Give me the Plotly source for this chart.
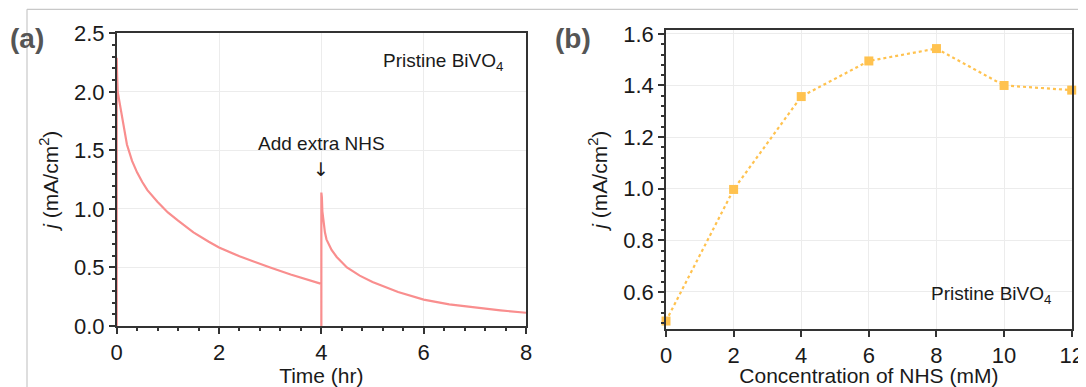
import plotly.graph_objects as go

# ---- Panel (a): chronoamperometry ----
time_hr = [0, 0, 0.01, 0.02, 0.05, 0.1, 0.15, 0.2, 0.3, 0.4, 0.5, 0.6, 0.8, 1.0, 1.2, 1.5,
           1.8, 2.0, 2.4, 2.8, 3.0, 3.4, 3.7, 4.0,
           4.0, 4.0, 4.01, 4.02, 4.04, 4.07, 4.1, 4.2, 4.3, 4.5, 4.75, 5.0, 5.5, 6.0,
           6.5, 7.0, 7.5, 8.0]
current_a = [0, 2.29, 2.12, 2.0, 1.92, 1.78, 1.65, 1.55, 1.41, 1.31, 1.23, 1.16, 1.06, 0.97, 0.90, 0.80,
             0.72, 0.67, 0.595, 0.53, 0.50, 0.44, 0.40, 0.36,
             0.0, 1.14, 1.10, 0.98, 0.88, 0.80, 0.74, 0.65, 0.59, 0.50, 0.43, 0.375, 0.29, 0.225,
             0.185, 0.157, 0.134, 0.113]

# ---- Panel (b): current vs NHS concentration ----
nhs_mM = [0, 2, 4, 6, 8, 10, 12]
current_b = [0.487, 0.997, 1.357, 1.495, 1.543, 1.40, 1.382]

x_ticks_a = [0, 2, 4, 6, 8]
y_ticks_a = [0.0, 0.5, 1.0, 1.5, 2.0, 2.5]
y_ticklabels_a = ["0.0", "0.5", "1.0", "1.5", "2.0", "2.5"]
x_ticks_b = [0, 2, 4, 6, 8, 10, 12]
y_ticks_b = [0.6, 0.8, 1.0, 1.2, 1.4, 1.6]
y_ticklabels_b = ["0.6", "0.8", "1.0", "1.2", "1.4", "1.6"]

# page body has an 8px margin, so the figure is drawn 8px in from the top-left
OFF = 8
W, H = 1086 - OFF, 387 - OFF
FONT = "Liberation Sans, Arial, sans-serif"
AX = "#333333"
GRID = "#ececec"

fig = go.Figure()
fig.add_trace(go.Scatter(x=time_hr, y=current_a, mode="lines",
                         line=dict(color="#F98E8E", width=2.2),
                         xaxis="x", yaxis="y", showlegend=False))
fig.add_trace(go.Scatter(x=nhs_mM, y=current_b, mode="lines+markers",
                         line=dict(color="#FFC24F", width=2.2, dash="dot"),
                         marker=dict(symbol="square", size=9, color="#FFC24F"),
                         cliponaxis=False,
                         xaxis="x2", yaxis="y2", showlegend=False))

def px_x(p):
    return (p - OFF) / W

def px_y(p):
    return 1 - (p - OFF) / H

common = dict(showline=True, linecolor=AX, linewidth=1.5, mirror=True,
              ticks="outside", ticklen=6, tickwidth=1.5, tickcolor=AX,
              showgrid=True, gridcolor=GRID, gridwidth=1, zeroline=False,
              automargin=False,
              tickfont=dict(family=FONT, size=22, color="#1a1a1a"))

title_font = dict(family=FONT, size=21, color="#1a1a1a")
ytitle = "<i>j</i> (mA/cm<sup>2</sup>)"

fig.update_layout(
    width=W, height=H,
    margin=dict(l=0, r=0, t=0, b=0, autoexpand=False),
    paper_bgcolor="white", plot_bgcolor="white",
    xaxis=dict(domain=[px_x(116.7), px_x(526)], range=[0, 8], anchor="y",
               tickvals=x_ticks_a,
               minor=dict(dtick=0.4, ticks="outside", ticklen=3, tickcolor=AX, showgrid=False),
               title=dict(text="Time (hr)", font=title_font, standoff=2),
               **common),
    yaxis=dict(domain=[px_y(326), px_y(33.3)], range=[0, 2.5], anchor="x",
               tickvals=y_ticks_a, ticktext=y_ticklabels_a,
               minor=dict(dtick=0.1, ticks="outside", ticklen=3, tickcolor=AX, showgrid=False),
               title=dict(text=ytitle, font=title_font, standoff=10),
               **common),
    xaxis2=dict(domain=[px_x(666), px_x(1071.7)], range=[0, 12], anchor="y2",
                tickvals=x_ticks_b,
                title=dict(text="Concentration of NHS (mM)", font=title_font, standoff=2),
                **common),
    yaxis2=dict(domain=[px_y(329.3), px_y(30)], range=[0.455, 1.615], anchor="x2",
                tickvals=y_ticks_b, ticktext=y_ticklabels_b,
                minor=dict(dtick=0.04, tick0=0.0, ticks="outside", ticklen=3, tickcolor=AX, showgrid=False),
                title=dict(text=ytitle, font=title_font, standoff=10),
                **common),
)

ann_font = dict(family=FONT, size=19, color="#1a1a1a")
fig.add_annotation(xref="paper", yref="paper", x=px_x(443), y=px_y(62),
                   text="Pristine BiVO<sub>4</sub>", showarrow=False, font=ann_font,
                   xanchor="center", yanchor="middle")
fig.add_annotation(xref="paper", yref="paper", x=px_x(991), y=px_y(295),
                   text="Pristine BiVO<sub>4</sub>", showarrow=False, font=ann_font,
                   xanchor="center", yanchor="middle")
fig.add_annotation(xref="x", yref="paper", x=4, y=px_y(144),
                   text="Add extra NHS", showarrow=False, font=ann_font,
                   xanchor="center", yanchor="middle")
fig.add_annotation(xref="x", yref="paper", x=4, y=px_y(169),
                   text="↓", showarrow=False, font=dict(family="DejaVu Sans", size=19, color="#1a1a1a"),
                   xanchor="center", yanchor="middle")

label_font = dict(family=FONT, size=28, color="#555555")
fig.add_annotation(xref="paper", yref="paper", x=px_x(27), y=px_y(38),
                   text="<b>(a)</b>", showarrow=False, font=label_font,
                   xanchor="center", yanchor="middle")
fig.add_annotation(xref="paper", yref="paper", x=px_x(573), y=px_y(38),
                   text="<b>(b)</b>", showarrow=False, font=label_font,
                   xanchor="center", yanchor="middle")

# faint image frame lines
fig.add_shape(type="line", xref="paper", yref="paper", x0=px_x(27), x1=1, y0=px_y(9.3), y1=px_y(9.3),
              line=dict(color="#c8c8c8", width=1.2))
fig.add_shape(type="line", xref="paper", yref="paper", x0=px_x(27), x1=px_x(27), y0=px_y(9.3), y1=0,
              line=dict(color="#c8c8c8", width=1.2))

fig.write_html("out.html")
